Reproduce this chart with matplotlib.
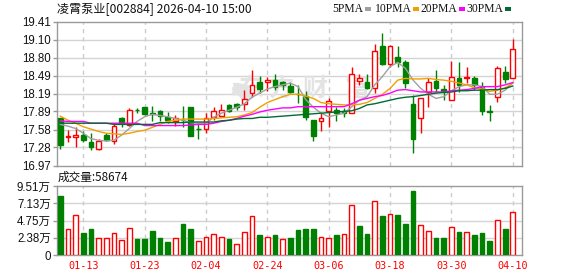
import matplotlib
matplotlib.use('Agg')
import matplotlib.pyplot as plt
from matplotlib.patches import Rectangle, Arc

# ---------------- data ----------------
dates = ['01-08', '01-09', '01-12', '01-13', '01-14', '01-15', '01-16', '01-19', '01-20', '01-21',
         '01-22', '01-23', '01-26', '01-27', '01-28', '01-29', '01-30', '02-02', '02-03', '02-04',
         '02-05', '02-06', '02-09', '02-10', '02-11', '02-12', '02-13', '02-24', '02-25', '02-26',
         '02-27', '03-02', '03-03', '03-04', '03-05', '03-06', '03-09', '03-10', '03-11', '03-12',
         '03-13', '03-16', '03-17', '03-18', '03-19', '03-20', '03-23', '03-24', '03-25', '03-26',
         '03-27', '03-30', '03-31', '04-01', '04-02', '04-03', '04-07', '04-08', '04-09', '04-10']

opens = [17.77, 17.45, 17.45, 17.49, 17.38, 17.26, 17.49, 17.39, 17.77, 17.66,
         17.92, 17.96, 17.86, 17.90, 17.79, 17.73, 17.75, 17.96, 17.60, 17.59,
         17.80, 17.82, 18.00, 18.01, 18.01, 18.20, 18.38, 18.39, 18.43, 18.39,
         18.32, 18.19, 18.15, 17.74, 17.73, 17.90, 17.91, 17.90, 17.87, 18.41,
         18.38, 18.29, 19.00, 18.70, 18.81, 18.72, 18.01, 17.77, 18.22, 18.40,
         18.27, 18.08, 18.45, 18.46, 18.45, 18.31, 17.90, 18.14, 18.55, 18.45]
highs = [17.78, 17.57, 17.62, 17.55, 17.52, 17.42, 17.52, 17.69, 17.80, 17.94,
         17.95, 17.97, 17.98, 17.91, 17.88, 17.83, 17.98, 17.96, 17.70, 17.87,
         17.97, 18.01, 18.01, 18.04, 18.25, 18.60, 18.49, 18.47, 18.53, 18.40,
         18.39, 18.34, 18.24, 17.74, 17.87, 18.11, 17.96, 17.95, 18.64, 18.52,
         18.53, 19.03, 19.22, 19.02, 18.99, 18.76, 18.17, 18.11, 18.45, 18.60,
         18.33, 18.74, 18.72, 18.65, 18.49, 18.39, 18.00, 18.66, 18.66, 19.12]
lows = [17.26, 17.38, 17.29, 17.38, 17.24, 17.24, 17.39, 17.34, 17.62, 17.64,
        17.86, 17.83, 17.72, 17.72, 17.69, 17.64, 17.62, 17.48, 17.43, 17.52,
        17.74, 17.80, 17.88, 17.91, 17.92, 18.13, 18.21, 18.24, 18.25, 18.25,
        18.21, 18.03, 17.74, 17.39, 17.55, 17.62, 17.72, 17.80, 17.86, 18.33,
        18.27, 18.21, 18.68, 18.64, 18.64, 18.28, 17.19, 17.52, 17.96, 18.22,
        18.08, 18.08, 18.22, 18.37, 18.25, 17.83, 17.73, 18.05, 18.37, 18.45]
closes = [17.32, 17.47, 17.49, 17.40, 17.29, 17.39, 17.40, 17.64, 17.69, 17.92,
          17.91, 17.85, 17.84, 17.82, 17.74, 17.77, 17.74, 17.48, 17.59, 17.77,
          17.90, 17.92, 17.90, 17.97, 18.10, 18.33, 18.27, 18.43, 18.31, 18.33,
          18.22, 18.18, 17.80, 17.48, 17.77, 18.07, 17.86, 17.87, 18.53, 18.45,
          18.29, 18.91, 18.69, 18.99, 18.72, 18.37, 17.43, 18.11, 18.39, 18.29,
          18.24, 18.47, 18.33, 18.48, 18.34, 17.89, 17.88, 18.62, 18.44, 18.94]

volumes = [8.13, 3.54, 5.47, 3.08, 3.58, 2.30, 2.30, 2.99, 2.07, 3.67,
           2.21, 2.21, 3.31, 2.34, 1.79, 2.30, 4.27, 3.58, 1.93, 2.43,
           2.89, 2.43, 2.21, 1.52, 3.17, 5.38, 2.76, 2.43, 2.76, 2.16,
           2.30, 3.45, 3.58, 3.58, 2.43, 2.30, 2.76, 2.89, 6.89, 4.00,
           2.89, 7.44, 5.38, 5.65, 5.51, 4.27, 8.87, 4.13, 3.31, 2.34,
           2.34, 3.86, 3.17, 3.17, 2.76, 3.08, 1.98, 4.82, 3.58, 5.87]

ma5 = [17.67, 17.64, 17.60, 17.52, 17.43, 17.40, 17.39, 17.40, 17.49, 17.60,
       17.72, 17.80, 17.84, 17.82, 17.80, 17.77, 17.74, 17.70, 17.69, 17.69,
       17.79, 17.86, 17.91, 17.96, 18.02, 18.13, 18.20, 18.27, 18.31, 18.34,
       18.37, 18.31, 18.09, 17.96, 17.86, 17.80, 17.83, 17.86, 17.97, 18.08,
       18.14, 18.34, 18.48, 18.65, 18.72, 18.62, 18.42, 18.28, 18.18, 18.11,
       18.14, 18.24, 18.31, 18.34, 18.34, 18.31, 18.18, 18.18, 18.25, 18.37]
ma10 = [17.81, 17.74, 17.69, 17.63, 17.59, 17.55, 17.52, 17.51, 17.50, 17.52,
        17.55, 17.57, 17.62, 17.67, 17.72, 17.74, 17.76, 17.76, 17.76, 17.76,
        17.77, 17.78, 17.79, 17.80, 17.83, 17.87, 17.96, 18.04, 18.09, 18.14,
        18.18, 18.18, 18.15, 18.11, 18.04, 18.02, 18.01, 18.00, 18.00, 18.01,
        18.04, 18.11, 18.18, 18.28, 18.42, 18.45, 18.44, 18.44, 18.45, 18.43,
        18.42, 18.40, 18.37, 18.34, 18.29, 18.27, 18.23, 18.25, 18.29, 18.37]
ma20 = [17.73, 17.72, 17.72, 17.72, 17.69, 17.69, 17.69, 17.69, 17.69, 17.69,
        17.69, 17.65, 17.65, 17.65, 17.65, 17.65, 17.65, 17.66, 17.67, 17.67,
        17.69, 17.72, 17.74, 17.77, 17.81, 17.84, 17.88, 17.91, 17.93, 17.95,
        17.95, 17.97, 17.97, 17.97, 17.97, 17.97, 17.97, 17.97, 18.02, 18.08,
        18.11, 18.14, 18.16, 18.20, 18.25, 18.26, 18.24, 18.22, 18.22, 18.22,
        18.22, 18.24, 18.25, 18.26, 18.28, 18.31, 18.31, 18.31, 18.34, 18.38]
ma30 = [17.69, 17.69, 17.69, 17.69, 17.69, 17.69, 17.69, 17.67, 17.67, 17.67,
        17.67, 17.67, 17.67, 17.70, 17.70, 17.70, 17.70, 17.71, 17.71, 17.71,
        17.71, 17.73, 17.74, 17.76, 17.77, 17.77, 17.79, 17.79, 17.80, 17.81,
        17.82, 17.83, 17.84, 17.85, 17.86, 17.87, 17.88, 17.89, 17.90, 17.94,
        18.00, 18.02, 18.05, 18.08, 18.11, 18.13, 18.14, 18.16, 18.18, 18.20,
        18.21, 18.22, 18.24, 18.24, 18.25, 18.25, 18.26, 18.26, 18.28, 18.32]

price_ticks = [16.97, 17.28, 17.58, 17.89, 18.19, 18.49, 18.80, 19.10, 19.41]
vol_ticks = [0, 2.38, 4.75, 7.13, 9.51]
vol_tick_labels = ['0', '2.38万', '4.75万', '7.13万', '9.51万']
xtick_labels = ['01-13', '01-23', '02-04', '02-24', '03-06', '03-18', '03-30', '04-10']
title = '凌霄泵业[002884] 2026-04-10 15:00'
vol_title = '成交量:58674'
ma_names = ['5PMA', '10PMA', '20PMA', '30PMA']
watermark = '东方财富'

# ---------------- style ----------------
W, H = 578, 276
RED = '#ff0000'
GREEN = '#008000'
MA_COLORS = ['#a0a0a0', '#f0a000', '#ff00ff', '#006b33']
FRAME = '#9a9a9a'
GRID = '#d4d4d4'
VGRID = '#cccccc'
WM = '#e3e3e3'
CJK = ['Noto Sans CJK SC', 'DejaVu Sans']
NUMF = ['Liberation Sans', 'Noto Sans CJK SC']


def fx(px):
    return px / W


def fy(py):
    return 1 - py / H


fig = plt.figure(figsize=(W / 100, H / 100), dpi=100)
fig.patch.set_facecolor('white')

ax = fig.add_axes([fx(57), fy(165.7), (522 - 57) / W, (165.7 - 21.7) / H])
axv = fig.add_axes([fx(57), fy(255), (522 - 57) / W, (255 - 186) / H])

n = len(dates)
xs = list(range(n))
xlim = (-0.43, 60.2)
bw = 0.62

for a in (ax, axv):
    a.set_xlim(*xlim)
    for s in a.spines.values():
        s.set_color(FRAME)
        s.set_linewidth(1.0)
    a.set_facecolor('white')

tick_pos = [dates.index(d) for d in xtick_labels]

# grid lines
for t in price_ticks[1:-1]:
    ax.axhline(t, color=GRID, lw=1.0, zorder=0)
for t in vol_ticks[1:-1]:
    axv.axhline(t, color=GRID, lw=1.0, zorder=0)
for p in tick_pos:
    ax.axvline(p, color=VGRID, lw=1.0, ls=(0, (3, 3)), zorder=0)
    axv.axvline(p, color=VGRID, lw=1.0, ls=(0, (3, 3)), zorder=0)

# watermark (behind candles)
for ch, cx in zip(watermark, [251, 281, 315, 357]):
    ax.text(fx(cx), fy(89), ch, family=CJK, fontsize=18, fontweight='bold',
            color=WM, ha='center', va='center', zorder=0.5,
            transform=fig.transFigure)
for r, th1, th2 in [(15, 10, 95), (11, 0, 100), (7, -10, 105)]:
    ax.add_patch(Arc((fx(236), fy(100)), 2 * r / W, 2 * r / H,
                     theta1=th1, theta2=th2, lw=3.2, color=WM, zorder=0.5,
                     transform=fig.transFigure))

# candles
for i in xs:
    o, h, l, c = opens[i], highs[i], lows[i], closes[i]
    up = c >= o
    col = RED if up else GREEN
    ax.plot([i, i], [l, h], color=col, lw=1.0, zorder=2, solid_capstyle='butt')
    bot = min(o, c)
    hgt = max(abs(c - o), 0.004)
    ax.add_patch(Rectangle((i - bw / 2, bot), bw, hgt,
                           facecolor='white' if up else GREEN,
                           edgecolor=col, lw=1.0, zorder=3))

# moving averages
for vals, colr in zip([ma5, ma10, ma20, ma30], MA_COLORS):
    ax.plot(xs, vals, color=colr, lw=1.0, zorder=4)

ax.set_ylim(price_ticks[0], price_ticks[-1])
ax.set_yticks(price_ticks)
ax.set_yticklabels(['%.2f' % t for t in price_ticks])
ax.set_xticks([])
ax.tick_params(axis='y', length=3, width=1, color=FRAME, pad=1.5,
               labelsize=8.3, labelcolor='#111111')
for lab in ax.get_yticklabels():
    lab.set_family(NUMF)

# volume bars
for i in xs:
    up = closes[i] > closes[i - 1] if i > 0 else closes[i] >= opens[i]
    col = RED if up else GREEN
    axv.add_patch(Rectangle((i - bw / 2, 0), bw, volumes[i],
                            facecolor='white' if up else GREEN,
                            edgecolor=col, lw=1.0, zorder=3))

axv.set_ylim(vol_ticks[0], vol_ticks[-1])
axv.set_yticks(vol_ticks)
axv.set_yticklabels(vol_tick_labels)
axv.tick_params(axis='y', length=3, width=1, color=FRAME, pad=1.5,
                labelsize=8.3, labelcolor='#111111')
for lab in axv.get_yticklabels():
    lab.set_family(NUMF)
axv.set_xticks(tick_pos)
axv.set_xticklabels(xtick_labels)
axv.tick_params(axis='x', length=0, pad=4.5, labelsize=7.3, labelcolor=RED)
for lab in axv.get_xticklabels():
    lab.set_family(['DejaVu Sans Mono'])

# titles
fig.text(fx(57), fy(8.5), title, family=CJK, fontsize=8.7, color='#111111',
         ha='left', va='center')
fig.text(fx(58), fy(177), vol_title, family=CJK, fontsize=8.4, color='#111111',
         ha='left', va='center')

# MA legend
sq_x = [365, 413, 459, 505]
for name, sx, colr in zip(ma_names, sq_x, MA_COLORS):
    fig.text(fx(sx - 1.5), fy(8.6), name, family=['Liberation Serif'], fontsize=8.4,
             color='#111111', ha='right', va='center')
    fig.patches.append(Rectangle((fx(sx), fy(10.5)), 5.5 / W, 3.5 / H, facecolor=colr,
                                 edgecolor='none', transform=fig.transFigure,
                                 figure=fig))

fig.savefig('out.png', dpi=100, facecolor='white')
